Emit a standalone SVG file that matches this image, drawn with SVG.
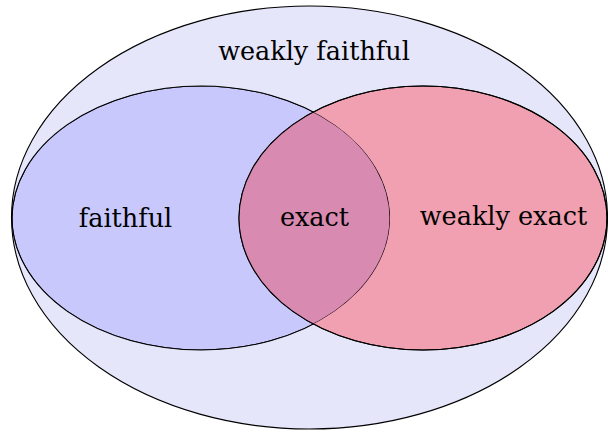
<svg xmlns="http://www.w3.org/2000/svg" width="608" height="433" viewBox="0 0 608 433">
  <style>
    .set { stroke: #000; stroke-width: 1.1; }
    .label { font-family: "DejaVu Serif", "Liberation Serif", serif; font-size: 25.5px; fill: #000; text-anchor: middle; }
  </style>
  <defs>
    <clipPath id="clipLeft">
      <ellipse cx="201" cy="218" rx="189" ry="132"/>
    </clipPath>
  </defs>
  <rect width="608" height="433" fill="#ffffff"/>
  <g id="weakly-faithful">
    <ellipse class="set" cx="309.5" cy="217.5" rx="298" ry="211.5" fill="#e6e6fb"/>
    <text class="label" x="314" y="60">weakly faithful</text>
  </g>
  <g id="faithful">
    <ellipse class="set" cx="201" cy="218" rx="189" ry="132" fill="#c8c8fc"/>
    <text class="label" x="125.5" y="227">faithful</text>
  </g>
  <g id="weakly-exact">
    <ellipse class="set" cx="423" cy="218" rx="184" ry="132" fill="#f0a0b0"/>
    <text class="label" x="503.5" y="225">weakly exact</text>
  </g>
  <g id="exact">
    <ellipse cx="423" cy="218" rx="184" ry="132" fill="#d88ab0" clip-path="url(#clipLeft)"/>
    <ellipse cx="201" cy="218" rx="189" ry="132" fill="none" class="set" clip-path="url(#clipLeft)"/>
    <ellipse cx="423" cy="218" rx="184" ry="132" fill="none" class="set"/>
    <text class="label" x="314.5" y="226">exact</text>
  </g>
</svg>
